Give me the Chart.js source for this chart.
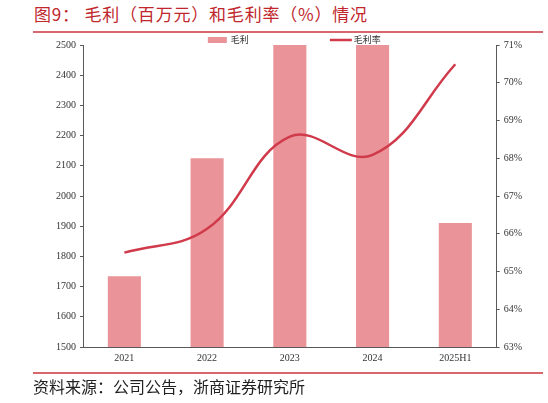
<!DOCTYPE html>
<html>
<head>
<meta charset="utf-8">
<script src="https://cdn.jsdelivr.net/npm/chart.js@4"></script>
<style>
  html, body { margin: 0; padding: 0; background: #fff; }
  body { width: 548px; height: 403px; position: relative; overflow: hidden; }
  #title {
    position: absolute; left: 34px; top: 3px;
    font: 17px "Noto Sans CJK SC", sans-serif; color: #c0262c;
    white-space: pre; line-height: 22px; letter-spacing: 0.8px;
  }
  .rule { position: absolute; left: 33px; width: 510px; height: 1.5px; background: #d9666b; }
  #chartBox { position: absolute; left: 0; top: 33px; width: 548px; height: 340px; }
  #source {
    position: absolute; left: 33px; top: 376px;
    font: 16px "Noto Sans CJK SC", sans-serif; color: #222; line-height: 20px;
  }
</style>
</head>
<body>
<div id="title">图9： 毛利（百万元）和毛利率（%）情况</div>
<div class="rule" style="top:31px"></div>
<div id="chartBox"><canvas id="chart"></canvas></div>
<div class="rule" style="top:372px"></div>
<div id="source">资料来源：公司公告，浙商证券研究所</div>

<script>
// 数据
const categories = ["2021", "2022", "2023", "2024", "2025H1"];
const grossProfit = [1734, 2125, 2580, 2620, 1911]; // 百万元 (2023/2024 超出坐标上限)
const grossMargin = [65.5, 66.13, 68.57, 68.09, 70.49]; // %
const leftTicks = [1500, 1600, 1700, 1800, 1900, 2000, 2100, 2200, 2300, 2400, 2500];
const rightTicks = [63, 64, 65, 66, 67, 68, 69, 70, 71];

const barColor = "#ea9499";
const lineColor = "#d03a4b";
const axisColor = "#595959";
const tickFont = { family: "'Liberation Serif', serif", size: 10 };

// 图例 (手动绘制在图表顶部)
const topLegend = {
  id: "topLegend",
  afterDraw(chart) {
    const ctx = chart.ctx;
    const mid = (chart.chartArea.left + chart.chartArea.right) / 2;
    const y = 7;
    const barSet = chart.data.datasets.find((d) => d.type === "bar");
    const lineSet = chart.data.datasets.find((d) => d.type === "line");
    ctx.save();
    ctx.font = "9px 'Noto Sans CJK SC', sans-serif";
    ctx.textBaseline = "middle";
    // 毛利
    let x = mid - 82;
    ctx.fillStyle = barColor;
    ctx.fillRect(x, y - 3, 19, 6);
    ctx.fillStyle = "#333";
    ctx.fillText(barSet.label, x + 23, y);
    // 毛利率
    x = mid + 40;
    ctx.strokeStyle = lineColor;
    ctx.lineWidth = 2.5;
    ctx.beginPath();
    ctx.moveTo(x, y);
    ctx.lineTo(x + 22, y);
    ctx.stroke();
    ctx.fillText(lineSet.label, x + 24, y);
    ctx.restore();
  },
};

new Chart(document.getElementById("chart"), {
  data: {
    labels: categories,
    datasets: [
      {
        type: "line",
        label: "毛利率",
        data: grossMargin,
        yAxisID: "y1",
        borderColor: lineColor,
        borderWidth: 2.5,
        pointRadius: 0,
        tension: 0.4,
        fill: false,
        order: 0,
      },
      {
        type: "bar",
        label: "毛利",
        data: grossProfit,
        yAxisID: "y",
        backgroundColor: barColor,
        barPercentage: 0.4,
        categoryPercentage: 1,
        order: 1,
      },
    ],
  },
  options: {
    responsive: true,
    maintainAspectRatio: false,
    animation: false,
    layout: { padding: { left: 52, right: 22, top: 12, bottom: 4 } },
    plugins: { legend: { display: false }, tooltip: { enabled: false } },
    scales: {
      x: {
        grid: { display: true, drawOnChartArea: false, drawTicks: false },
        border: { color: axisColor, width: 1 },
        ticks: { font: tickFont, color: "#333", padding: 5 },
      },
      y: {
        position: "left",
        min: 1500,
        max: 2500,
        afterBuildTicks: (s) => { s.ticks = leftTicks.map((v) => ({ value: v })); },
        grid: { drawOnChartArea: false, drawTicks: true, tickLength: 3, color: axisColor },
        border: { color: axisColor, width: 1 },
        ticks: { font: tickFont, color: "#333", padding: 4, callback: (v) => String(v) },
      },
      y1: {
        position: "right",
        min: 63,
        max: 71,
        afterBuildTicks: (s) => { s.ticks = rightTicks.map((v) => ({ value: v })); },
        grid: { drawOnChartArea: false, drawTicks: true, tickLength: 3, color: axisColor },
        border: { color: axisColor, width: 1 },
        ticks: { font: tickFont, color: "#333", padding: 4, callback: (v) => v + "%" },
      },
    },
  },
  plugins: [topLegend],
});
</script>
</body>
</html>
